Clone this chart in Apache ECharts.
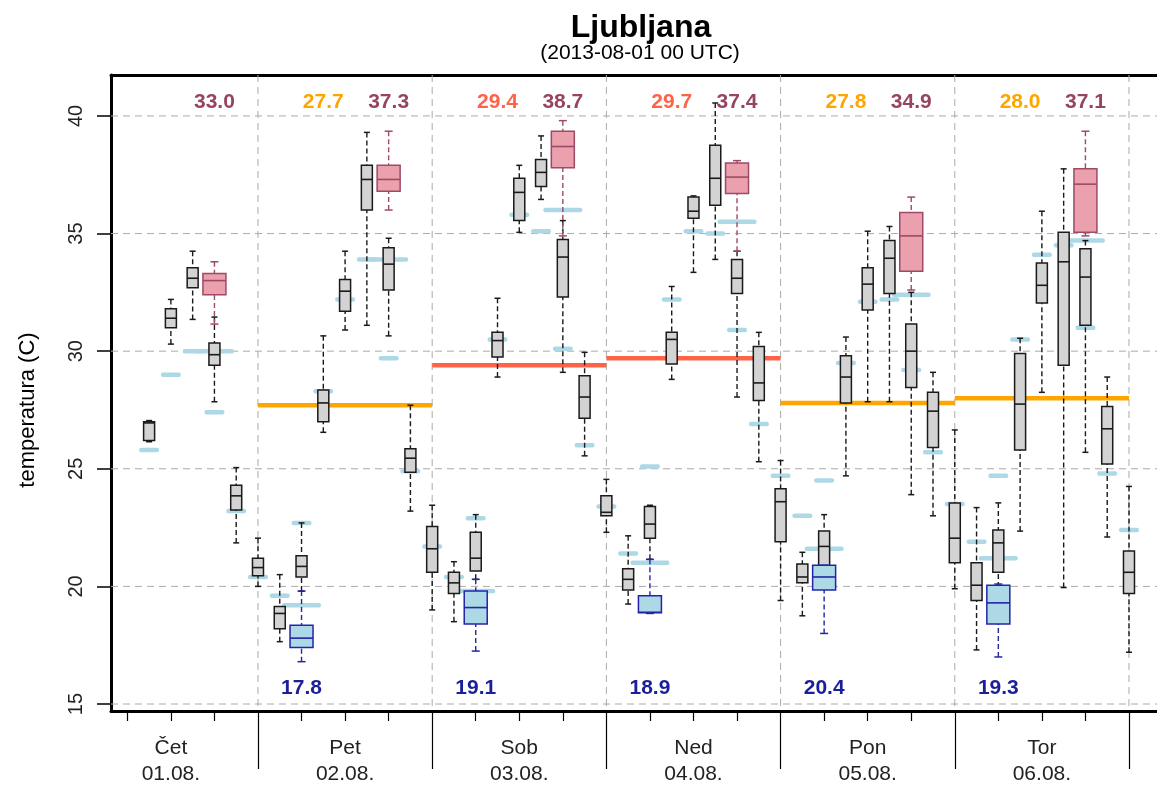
<!DOCTYPE html>
<html><head><meta charset="utf-8">
<script src="https://cdn.jsdelivr.net/npm/echarts@6/dist/echarts.min.js"></script>
<style>html,body{margin:0;padding:0;background:#fff}#c{width:1157px;height:787px}</style>
</head><body><div id="c"></div>
<script>
// ---- data ----
const dayNames = ['Čet', 'Pet', 'Sob', 'Ned', 'Pon', 'Tor'];
const dayDates = ['01.08.', '02.08.', '03.08.', '04.08.', '05.08.', '06.08.'];
const dayLabelHours = [12, 36, 60, 84, 108, 132];
const dayBoundHours = [24, 48, 72, 96, 120, 144];
const sixHourTicks = [6, 12, 18, 30, 36, 42, 54, 60, 66, 78, 84, 90, 102, 108, 114, 126, 132, 138];
const yTicks = [15, 20, 25, 30, 35, 40];

// ensemble 3-hourly boxes: [low whisker, q1, median, q3, high whisker]
const ensHours = [9, 12, 15, 18, 21, 24, 27, 30, 33, 36, 39, 42, 45, 48, 51, 54, 57, 60, 63, 66, 69,
  72, 75, 78, 81, 84, 87, 90, 93, 96, 99, 102, 105, 108, 111, 114, 117, 120, 123, 126, 129, 132, 135, 138, 141, 144];
const ensStats = [
  [26.15, 26.2, 26.95, 27.0, 27.05], [30.3, 31.0, 31.4, 31.8, 32.2], [31.35, 32.7, 33.1, 33.55, 34.25],
  [27.85, 29.4, 29.85, 30.35, 31.45], [21.85, 23.25, 23.85, 24.3, 25.05],
  [20.0, 20.45, 20.8, 21.2, 22.05], [17.65, 18.2, 18.85, 19.15, 20.5], [19.8, 20.4, 20.85, 21.3, 22.7],
  [26.55, 27.0, 27.8, 28.35, 30.65], [30.9, 31.7, 32.55, 33.05, 34.25], [31.1, 36.0, 37.3, 37.9, 39.3],
  [30.65, 32.6, 33.7, 34.4, 34.8], [23.2, 24.85, 25.45, 25.85, 27.7],
  [19.0, 20.6, 21.6, 22.55, 23.45], [18.5, 19.7, 20.15, 20.6, 21.05], [20.3, 20.65, 21.2, 22.3, 23.05],
  [28.9, 29.75, 30.45, 30.8, 32.25], [35.05, 35.55, 36.75, 37.35, 37.9], [36.45, 37.0, 37.6, 38.15, 39.15],
  [29.1, 32.3, 34.0, 34.75, 35.55], [25.55, 27.15, 28.05, 28.95, 29.95],
  [22.3, 23.0, 23.15, 23.85, 24.55], [19.25, 19.85, 20.3, 20.75, 22.15], [21.15, 22.05, 22.65, 23.4, 23.45],
  [28.8, 29.45, 30.5, 30.8, 32.75], [33.35, 35.65, 35.95, 36.55, 36.6], [33.9, 36.2, 37.35, 38.75, 40.55],
  [28.05, 32.45, 33.1, 33.9, 34.25], [25.3, 27.9, 28.65, 30.2, 30.8],
  [19.4, 21.9, 23.6, 24.15, 25.35], [18.75, 20.15, 20.4, 20.95, 21.45], [19.9, 20.8, 21.7, 22.35, 23.05],
  [24.7, 27.8, 28.9, 29.8, 30.6], [27.85, 31.75, 32.85, 33.55, 35.1], [27.85, 32.45, 33.95, 34.7, 35.3],
  [23.9, 28.45, 30.0, 31.15, 32.5], [23.0, 25.9, 27.45, 28.25, 29.1],
  [19.9, 21.0, 22.05, 23.55, 26.65], [17.3, 19.4, 20.05, 21.0, 23.35], [18.95, 20.6, 21.85, 22.4, 23.55],
  [22.35, 25.8, 27.75, 29.9, 30.55], [28.25, 32.05, 32.8, 33.75, 35.95], [19.95, 29.4, 33.8, 35.05, 37.75],
  [25.7, 31.1, 33.15, 34.35, 34.7], [22.1, 25.2, 26.7, 27.65, 28.9],
  [17.2, 19.7, 20.6, 21.5, 24.25]
];
const ensDet = [25.8, 29.0, 30.0, 27.4, 23.2,
  20.4, 19.6, 22.7, 28.3, 32.2, 33.9, 29.7, 24.9,
  21.7, 20.4, 22.9, 30.5, 35.8, 35.1, 30.1, 26.0,
  23.4, 21.4, 25.1, 32.2, 35.1, 35.0, 30.9, 26.9,
  24.7, 23.0, 24.5, 29.5, 32.1, 32.2, 29.2, 25.7,
  23.5, 21.9, 24.7, 30.5, 34.1, 34.5, 31.0, 24.8,
  22.4];

// daily maximum boxes
const maxHours = [18, 42, 66, 90, 114, 138];
const maxStats = [
  [31.15, 32.4, 33.0, 33.3, 33.8], [36.0, 36.8, 37.3, 37.9, 39.35], [34.9, 37.8, 38.7, 39.35, 39.8],
  [34.25, 36.7, 37.4, 38.0, 38.1], [32.6, 33.4, 34.9, 35.9, 36.55], [34.9, 35.05, 37.1, 37.75, 39.35]
];
const maxDet = [30.0, 33.9, 36.0, 35.5, 32.4, 34.7];

// daily minimum boxes
const minHours = [30, 54, 78, 102, 126];
const minStats = [
  [16.8, 17.4, 17.8, 18.35, 19.8], [17.25, 18.4, 19.1, 19.8, 20.3], [18.85, 18.88, 18.9, 19.6, 21.15],
  [18.0, 19.85, 20.4, 20.9, 20.9], [17.0, 18.4, 19.3, 20.05, 20.1]
];
const minDet = [19.2, 19.8, 21.0, 21.6, 21.2];

// daily mean lines
const meanStartHours = [24, 48, 72, 96, 120];
const meanValues = [27.7, 29.4, 29.7, 27.8, 28.0];

// ---- chart ----
const FONT = '"Liberation Sans", Arial, sans-serif';
const xMin = 3.75, xMax = 147.86, yMin = 14.703, yMax = 41.74;

function boxRenderer(st) {
  return function (params, api) {
    const x = api.value(0);
    const p = [1, 2, 3, 4, 5].map(i => api.coord([x, api.value(i)]));
    const cx = p[0][0], hw = st.boxW / 2, cw = st.capW / 2;
    const wl = { stroke: st.whisker, lineWidth: 1.4, lineDash: [5, 3] };
    const cl = { stroke: st.whisker, lineWidth: 1.5 };
    return { type: 'group', children: [
      { type: 'line', shape: { x1: cx, y1: p[4][1], x2: cx, y2: p[3][1] }, style: wl },
      { type: 'line', shape: { x1: cx, y1: p[0][1], x2: cx, y2: p[1][1] }, style: wl },
      { type: 'line', shape: { x1: cx - cw, y1: p[4][1], x2: cx + cw, y2: p[4][1] }, style: cl },
      { type: 'line', shape: { x1: cx - cw, y1: p[0][1], x2: cx + cw, y2: p[0][1] }, style: cl },
      { type: 'rect', shape: { x: cx - hw, y: p[3][1], width: 2 * hw, height: p[1][1] - p[3][1] },
        style: { fill: st.fill, stroke: st.stroke, lineWidth: 1.5 } },
      { type: 'line', shape: { x1: cx - hw, y1: p[2][1], x2: cx + hw, y2: p[2][1] }, style: { stroke: st.stroke, lineWidth: 1.6 } }
    ]};
  };
}
function dashRenderer(w) {
  return function (params, api) {
    const c = api.coord([api.value(0), api.value(1)]);
    return { type: 'rect', shape: { x: c[0] - w / 2, y: c[1] - 2.25, width: w, height: 4.5, r: 2 }, style: { fill: '#ADD8E6' } };
  };
}
function meanColor(v) { return v >= 29 ? '#FF6347' : '#FFA500'; }

const ensData = ensHours.map((h, i) => [h].concat(ensStats[i]));
const maxData = maxHours.map((h, i) => [h].concat(maxStats[i]));
const minData = minHours.map((h, i) => [h].concat(minStats[i]));

const option = {
  animation: false,
  backgroundColor: '#fff',
  grid: { left: 111, right: 0, top: 75, bottom: 75 },
  xAxis: [
    { type: 'value', position: 'bottom', min: xMin, max: xMax,
      axisLine: { show: true, lineStyle: { color: '#000', width: 3 } },
      axisTick: { show: true, customValues: sixHourTicks, length: 10, lineStyle: { color: '#000', width: 1.2 } },
      axisLabel: { show: false }, splitLine: { show: false } },
    { type: 'value', position: 'bottom', min: xMin, max: xMax,
      axisLine: { show: false },
      axisTick: { show: true, customValues: dayBoundHours, length: 58, lineStyle: { color: '#000', width: 1.2 } },
      axisLabel: { show: true, customValues: dayLabelHours, margin: 24, fontSize: 21, lineHeight: 26,
        fontFamily: FONT, color: '#222',
        formatter: v => { const i = dayLabelHours.indexOf(v); return i < 0 ? '' : dayNames[i] + '\n' + dayDates[i]; } },
      splitLine: { show: false } },
    { type: 'value', position: 'top', min: xMin, max: xMax,
      axisLine: { show: true, lineStyle: { color: '#000', width: 3 } },
      axisTick: { show: false }, axisLabel: { show: false }, splitLine: { show: false } }
  ],
  yAxis: { type: 'value', min: yMin, max: yMax,
    axisLine: { show: true, lineStyle: { color: '#000', width: 3 } },
    axisTick: { show: true, customValues: yTicks, length: 14, lineStyle: { color: '#000', width: 1.5 } },
    axisLabel: { show: true, customValues: yTicks, rotate: 90, margin: 25, fontSize: 20, fontFamily: FONT, color: '#222' },
    splitLine: { show: false } },
  graphic: [
    { type: 'text', x: 641, y: 28, style: { text: 'Ljubljana', font: 'bold 32px ' + FONT, fill: '#000',
      align: 'center', verticalAlign: 'middle', textAlign: 'center', textVerticalAlign: 'middle' } },
    { type: 'text', x: 640, y: 53, style: { text: '(2013-08-01 00 UTC)', font: '21px ' + FONT, fill: '#000',
      align: 'center', verticalAlign: 'middle', textAlign: 'center', textVerticalAlign: 'middle' } },
    { type: 'text', x: 28, y: 410, rotation: Math.PI / 2, style: { text: 'temperatura (C)', font: '22px ' + FONT, fill: '#000',
      align: 'center', verticalAlign: 'middle', textAlign: 'center', textVerticalAlign: 'middle' } }
  ],
  series: [
    { type: 'custom', name: 'hgrid', xAxisIndex: 0, silent: true,
      data: yTicks.map(v => [dayLabelHours[0], v]),
      renderItem: (params, api) => {
        const cs = params.coordSys; const y = api.coord([api.value(0), api.value(1)])[1];
        return { type: 'line', shape: { x1: cs.x, y1: y, x2: cs.x + cs.width, y2: y },
          style: { stroke: '#AAAAAA', lineWidth: 1, lineDash: [7, 5] } };
      } },
    { type: 'custom', name: 'vgrid', xAxisIndex: 0, silent: true,
      data: dayBoundHours.map(h => [h, yTicks[0]]),
      renderItem: (params, api) => {
        const cs = params.coordSys; const x = api.coord([api.value(0), api.value(1)])[0];
        return { type: 'line', shape: { x1: x, y1: cs.y, x2: x, y2: cs.y + cs.height },
          style: { stroke: '#AAAAAA', lineWidth: 1, lineDash: [7, 5] } };
      } },
    { type: 'custom', name: 'mean', xAxisIndex: 0, silent: true,
      data: meanStartHours.map((h, i) => [h, meanValues[i]]),
      renderItem: (params, api) => {
        const h = api.value(0), v = api.value(1);
        const a = api.coord([h, v]), b = api.coord([h + 24, v]);
        return { type: 'line', shape: { x1: a[0], y1: a[1], x2: b[0], y2: b[1] },
          style: { stroke: meanColor(v), lineWidth: 4.5 } };
      } },
    { type: 'custom', name: 'ensDet', xAxisIndex: 0, silent: true,
      data: ensHours.map((h, i) => [h, ensDet[i]]), renderItem: dashRenderer(20) },
    { type: 'custom', name: 'maxDet', xAxisIndex: 0, silent: true,
      data: maxHours.map((h, i) => [h, maxDet[i]]), renderItem: dashRenderer(39) },
    { type: 'custom', name: 'minDet', xAxisIndex: 0, silent: true,
      data: minHours.map((h, i) => [h, minDet[i]]), renderItem: dashRenderer(39) },
    { type: 'custom', name: 'ens', xAxisIndex: 0, silent: true, data: ensData,
      renderItem: boxRenderer({ boxW: 11, capW: 6, fill: '#D3D3D3', stroke: '#1a1a1a', whisker: '#1a1a1a' }) },
    { type: 'custom', name: 'max', xAxisIndex: 0, silent: true, data: maxData,
      renderItem: boxRenderer({ boxW: 23, capW: 8, fill: '#EBA0AE', stroke: '#9E4A66', whisker: '#9E4A66' }) },
    { type: 'custom', name: 'min', xAxisIndex: 0, silent: true, data: minData,
      renderItem: boxRenderer({ boxW: 23, capW: 8, fill: '#ADD8E6', stroke: '#2424A8', whisker: '#2424A8' }) },
    { type: 'custom', name: 'labels', xAxisIndex: 0, silent: true,
      data: [].concat(
        maxHours.map((h, i) => [h, maxStats[i][2], 0]),
        minHours.map((h, i) => [h, minStats[i][2], 1]),
        meanStartHours.map((h, i) => [h + 9, meanValues[i], 2])),
      renderItem: (params, api) => {
        const cs = params.coordSys; const kind = api.value(2); const v = api.value(1);
        const x = api.coord([api.value(0), v])[0];
        const y = kind === 1 ? cs.y + cs.height - 23 : cs.y + 27;
        const fill = kind === 0 ? '#96445F' : kind === 1 ? '#1B1F99' : meanColor(v);
        return { type: 'text', x: x, y: y, style: { text: v.toFixed(1), font: 'bold 21px ' + FONT, fill: fill,
          align: 'center', verticalAlign: 'middle', textAlign: 'center', textVerticalAlign: 'middle' } };
      } }
  ]
};
const chart = echarts.init(document.getElementById('c'), null, { renderer: 'canvas' });
chart.setOption(option);
</script></body></html>
